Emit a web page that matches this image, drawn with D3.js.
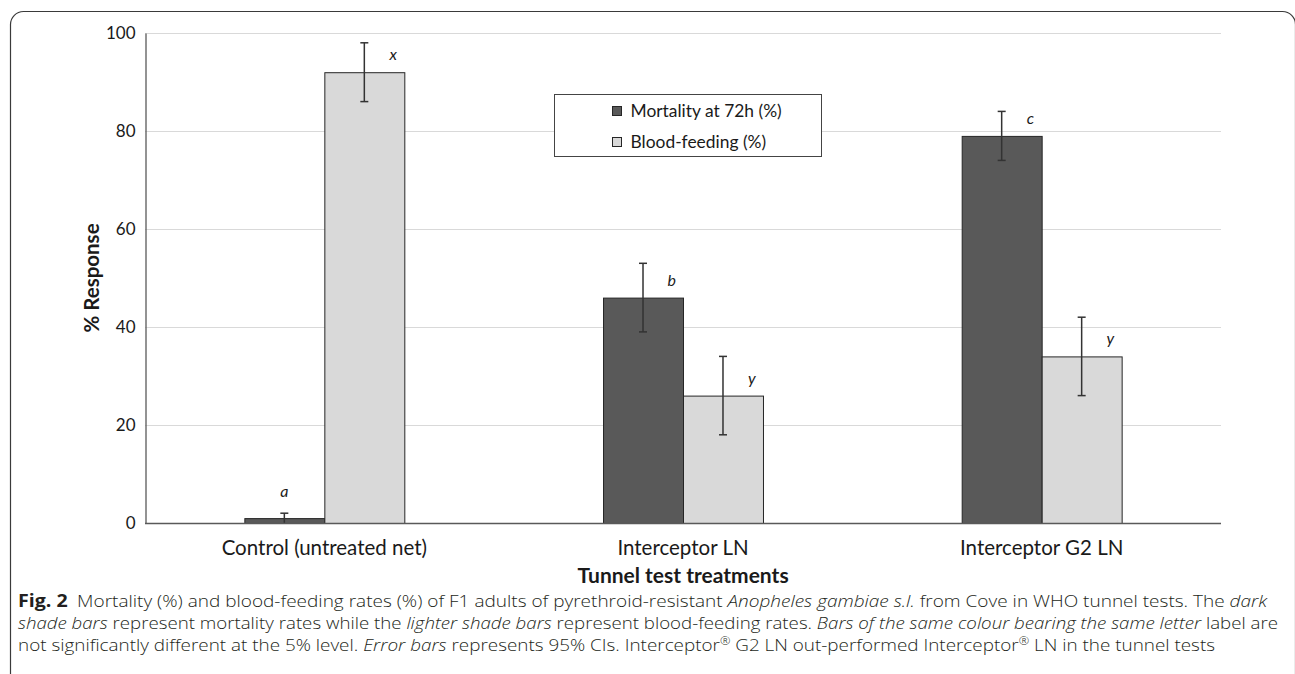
<!DOCTYPE html>
<html>
<head>
<meta charset="utf-8">
<script src="https://cdn.jsdelivr.net/npm/d3@7/dist/d3.min.js"></script>
<style>
  html, body { margin: 0; padding: 0; background: #fff; }
  svg { display: block; }
</style>
</head>
<body>
<div id="chart"></div>
<script>
// Data
const treatments = ['Control (untreated net)', 'Interceptor LN', 'Interceptor G2 LN'];
const seriesNames = ['Mortality at 72h (%)', 'Blood-feeding (%)'];
const mortality = [1, 46, 79];
const mortalityLow = [0, 39, 74];
const mortalityHigh = [2, 53, 84];
const bloodFeeding = [92, 26, 34];
const bloodLow = [86, 18, 26];
const bloodHigh = [98, 34, 42];
const mortalityLetters = ['a', 'b', 'c'];
const bloodLetters = ['x', 'y', 'y'];
const yTicks = [0, 20, 40, 60, 80, 100];

const W = 1295, H = 674;
const margin = { left: 145, right: 74, top: 33, bottom: 151 };
const COLORS = { dark: '#595959', light: '#d9d9d9', grid: '#d9d9d9', axis: '#595959', edge: '#262626' };
const FONT = 'Lato, "Open Sans", sans-serif';

const svg = d3.select('#chart').append('svg').attr('width', W).attr('height', H);

// rounded frame, bottom and right run off the page
svg.append('rect')
  .attr('x', 10.5).attr('y', 11.5)
  .attr('width', 1285).attr('height', 720)
  .attr('rx', 13)
  .attr('fill', 'none').attr('stroke', '#3a3a3a').attr('stroke-width', 1.2);

const x0 = d3.scaleBand().domain(treatments)
  .range([margin.left, W - margin.right]).paddingInner(0.554).paddingOuter(0.277);
const x1 = d3.scaleBand().domain(seriesNames).range([0, x0.bandwidth()]);
const y = d3.scaleLinear().domain([0, 100]).range([H - margin.bottom, margin.top]);

// gridlines
svg.append('g').selectAll('line').data(yTicks.slice(1)).join('line')
  .attr('x1', margin.left).attr('x2', W - margin.right)
  .attr('y1', d => y(d) + 0.5).attr('y2', d => y(d) + 0.5)
  .attr('stroke', COLORS.grid).attr('stroke-width', 1.2);

// y axis
const yAxis = svg.append('g')
  .attr('transform', `translate(${margin.left + 0.5},0)`)
  .call(d3.axisLeft(y).tickValues(yTicks).tickSize(0).tickPadding(10));
yAxis.select('.domain').attr('stroke', COLORS.axis).attr('stroke-width', 1.3);
yAxis.selectAll('text').attr('font-family', FONT)
  .attr('font-size', 17).attr('fill', '#1a1a1a');

const series = [
  { name: seriesNames[0], values: mortality, low: mortalityLow, high: mortalityHigh, letters: mortalityLetters, color: COLORS.dark },
  { name: seriesNames[1], values: bloodFeeding, low: bloodLow, high: bloodHigh, letters: bloodLetters, color: COLORS.light }
];

const bw = x1.bandwidth();
series.forEach(s => {
  const g = svg.append('g');
  const rows = treatments.map((t, i) => ({ t, v: s.values[i], lo: s.low[i], hi: s.high[i], letter: s.letters[i] }));
  const cx = d => x0(d.t) + x1(s.name) + bw / 2;

  g.selectAll('rect').data(rows).join('rect')
    .attr('x', d => x0(d.t) + x1(s.name) + 0.5)
    .attr('y', d => y(d.v) + 0.5)
    .attr('width', bw)
    .attr('height', d => y(0) - y(d.v))
    .attr('fill', s.color).attr('stroke', COLORS.edge).attr('stroke-width', 1);

  // error bars
  const eb = g.selectAll('g.err').data(rows).join('g').attr('class', 'err');
  eb.append('line')
    .attr('x1', d => cx(d)).attr('x2', d => cx(d))
    .attr('y1', d => y(d.lo)).attr('y2', d => y(d.hi))
    .attr('stroke', '#333').attr('stroke-width', 1.5);
  ['lo', 'hi'].forEach(k => {
    eb.filter(d => d[k] > 0).append('line')
      .attr('x1', d => cx(d) - 4).attr('x2', d => cx(d) + 4)
      .attr('y1', d => y(d[k])).attr('y2', d => y(d[k]))
      .attr('stroke', '#333').attr('stroke-width', 1.5);
  });

  // significance letters
  g.selectAll('text.letter').data(rows).join('text')
    .attr('class', 'letter')
    .attr('x', d => d.v < 5 ? cx(d) : cx(d) + bw * 0.36)
    .attr('y', d => d.v < 5 ? y(d.hi) - 16 : y(d.v) - 12)
    .attr('text-anchor', 'middle')
    .attr('font-family', FONT)
    .attr('font-style', 'italic').attr('font-size', 16).attr('fill', '#1a1a1a')
    .text(d => d.letter);
});

// x baseline
svg.append('line')
  .attr('x1', margin.left).attr('x2', W - margin.right)
  .attr('y1', y(0) + 0.5).attr('y2', y(0) + 0.5)
  .attr('stroke', COLORS.axis).attr('stroke-width', 1.5);

// category labels
svg.append('g').selectAll('text').data(treatments).join('text')
  .attr('x', d => x0(d) + x0.bandwidth() / 2)
  .attr('y', y(0) + 32)
  .attr('text-anchor', 'middle')
  .attr('font-family', FONT)
  .attr('font-size', 20.5).attr('fill', '#1a1a1a')
  .text(d => d);

// axis titles
svg.append('text')
  .attr('x', (margin.left + W - margin.right) / 2).attr('y', 583)
  .attr('text-anchor', 'middle')
  .attr('font-family', FONT)
  .attr('font-weight', 'bold').attr('font-size', 21).attr('fill', '#1a1a1a')
  .text('Tunnel test treatments');

svg.append('text')
  .attr('transform', `translate(99,${(y(0) + y(100)) / 2}) rotate(-90)`)
  .attr('text-anchor', 'middle')
  .attr('font-family', FONT)
  .attr('font-weight', 'bold').attr('font-size', 20.5).attr('fill', '#1a1a1a')
  .text('% Response');

// legend
const lg = svg.append('g').attr('transform', 'translate(554.5,94.5)');
lg.append('rect').attr('width', 267).attr('height', 62)
  .attr('fill', '#fff').attr('stroke', '#444').attr('stroke-width', 1);
series.forEach((s, i) => {
  lg.append('rect').attr('x', 58).attr('y', 12 + i * 31).attr('width', 9).attr('height', 9)
    .attr('fill', s.color).attr('stroke', COLORS.edge).attr('stroke-width', 1);
  lg.append('text').attr('x', 76).attr('y', 22.5 + i * 31)
    .attr('font-family', FONT)
    .attr('font-size', 17.4).attr('fill', '#1a1a1a')
    .text(s.name);
});

// figure caption
const captionLines = [
  [['Fig. 2', 'b'], ['\u2002Mortality (%) and blood-feeding rates (%) of F1 adults of pyrethroid-resistant ', 'n'], ['Anopheles gambiae s.l.', 'i'], [' from Cove in WHO tunnel tests. The ', 'n'], ['dark', 'i']],
  [['shade bars', 'i'], [' represent mortality rates while the ', 'n'], ['lighter shade bars', 'i'], [' represent blood-feeding rates. ', 'n'], ['Bars of the same colour bearing the same letter', 'i'], [' label are', 'n']],
  [['not significantly different at the 5% level. ', 'n'], ['Error bars', 'i'], [' represents 95% CIs. Interceptor', 'n'], ['\u00AE', 's'], [' G2 LN out-performed Interceptor', 'n'], ['\u00AE', 's'], [' LN in the tunnel tests', 'n']]
];
const captionWidths = [1249, 1260, 1197];

captionLines.forEach((parts, li) => {
  const t = svg.append('text')
    .attr('x', 18).attr('y', 607 + li * 22)
    .attr('font-family', '"Open Sans", "Noto Sans", sans-serif')
    .attr('font-weight', 300).attr('font-size', 16.5).attr('fill', '#231f20')
    .attr('textLength', captionWidths[li]).attr('lengthAdjust', 'spacingAndGlyphs');
  parts.forEach(([str, kind]) => {
    const sp = t.append('tspan').text(str);
    if (kind === 'b') sp.attr('font-weight', 700).attr('font-size', 17);
    if (kind === 'i') sp.attr('font-style', 'italic');
    if (kind === 's') sp.attr('font-size', 11).attr('dy', -6);
    if (kind === 'n' && li === 2 && (str.startsWith(' G2') || str.startsWith(' LN'))) sp.attr('dy', 6);
  });
});
</script>
</body>
</html>
